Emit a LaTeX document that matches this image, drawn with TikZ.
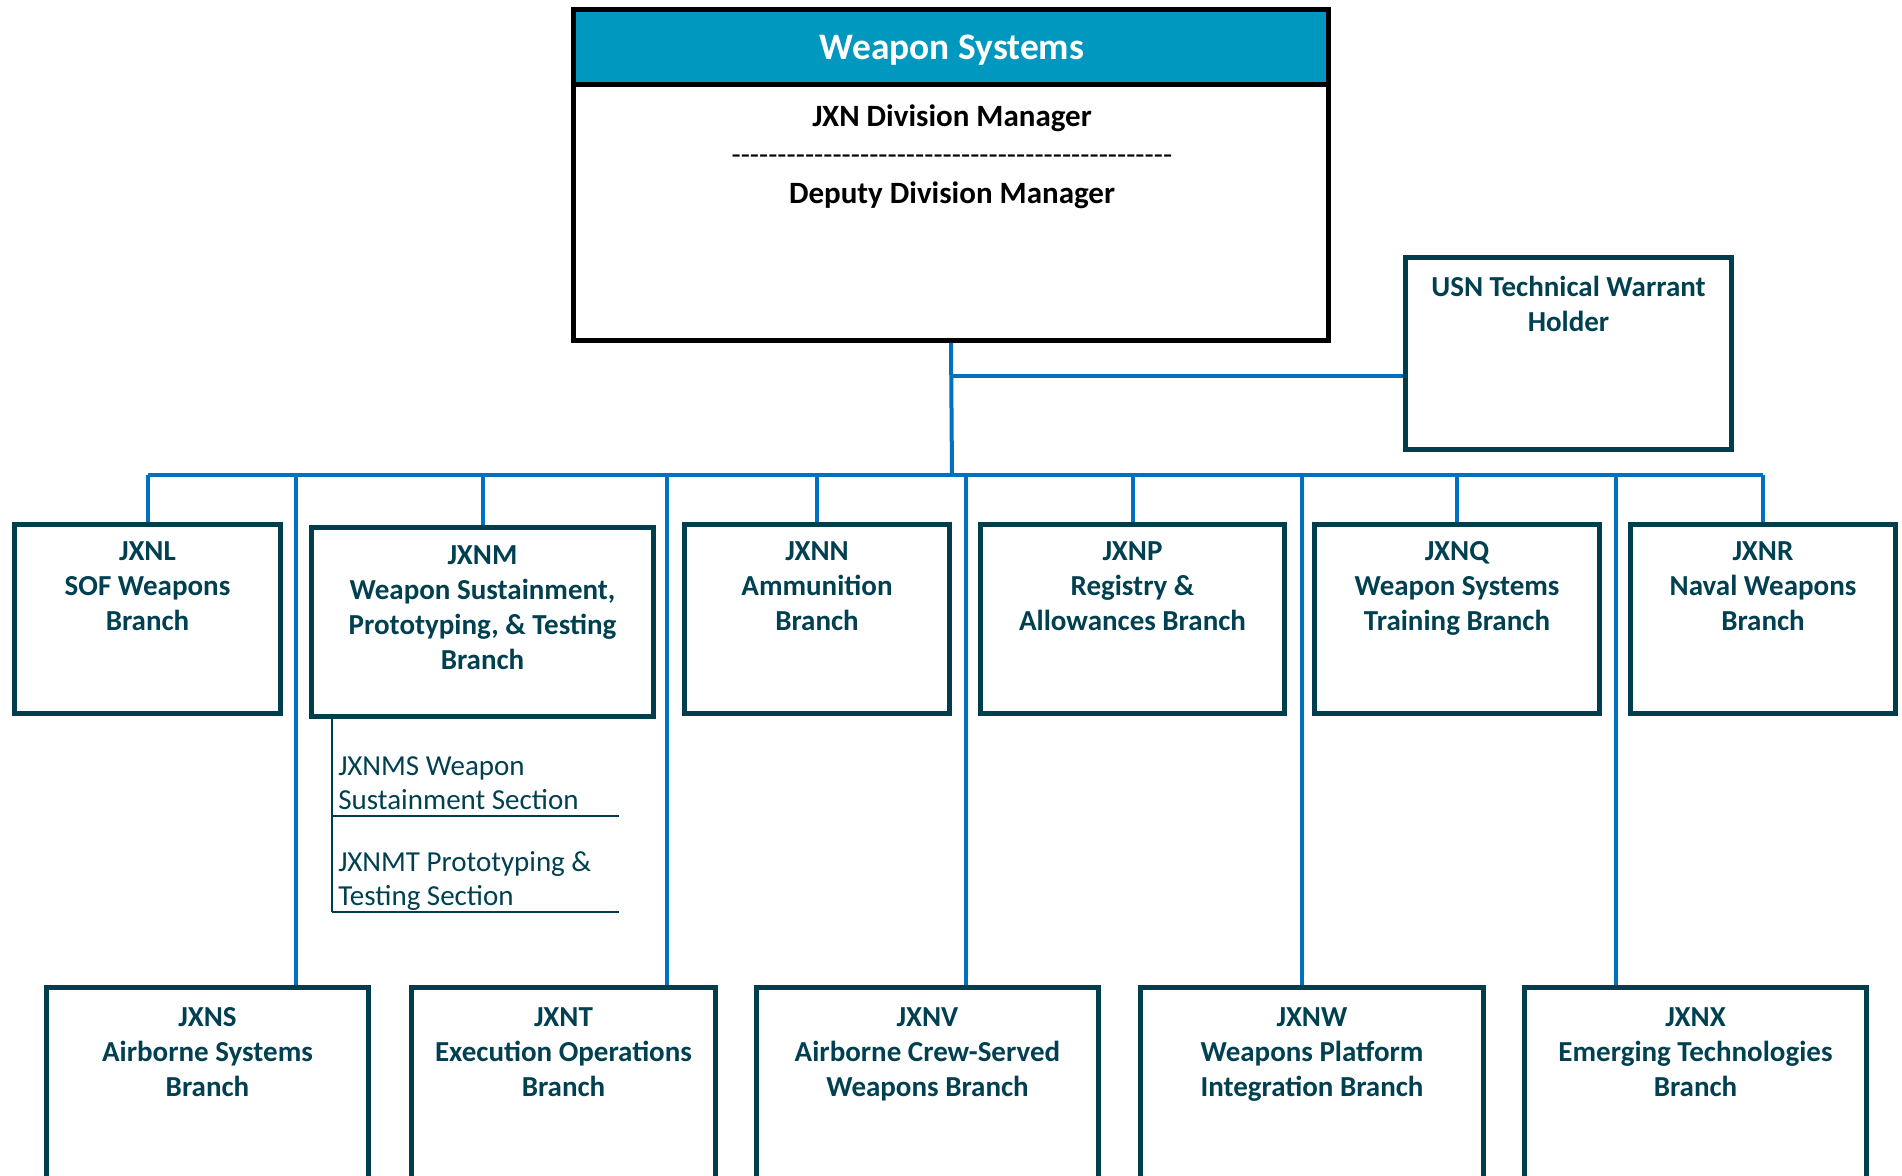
\documentclass[tikz,border=0pt]{standalone}
\usepackage{fontspec}
\setmainfont{Carlito}
\usetikzlibrary{fit,calc}
\definecolor{hdr}{RGB}{0,152,190}
\definecolor{bord}{RGB}{0,61,77}
\definecolor{txt}{RGB}{0,64,80}
\definecolor{conn}{RGB}{0,112,192}
\def\hy{-\kern0pt}
\def\dashes{\hy\hy\hy\hy\hy\hy\hy\hy\hy\hy\hy\hy\hy\hy\hy\hy\hy\hy\hy\hy\hy\hy\hy\hy\hy\hy\hy\hy\hy\hy\hy\hy\hy\hy\hy\hy\hy\hy\hy\hy\hy\hy\hy\hy\hy\hy\hy\hy}
\tikzset{
  box/.style={draw=bord, line width=2.5pt, inner sep=0pt},
  lbl/.style={text=txt, font=\bfseries\fontsize{14.5}{17.5}\selectfont, align=center, inner sep=0pt, anchor=north},
  sublbl/.style={text=txt, font=\fontsize{14.5}{17}\selectfont, align=left, inner sep=0pt, anchor=north west},
  link/.style={draw=conn, line width=2pt},
  subline/.style={draw=bord, line width=1pt},
  toptxt/.style={inner sep=0pt, font=\bfseries\fontsize{15.5}{18}\selectfont},
}
\begin{document}
\begin{tikzpicture}[x=0.5pt,y=-0.5pt]
\useasboundingbox (0,0) rectangle (1902,1176);
\clip (0,0) rectangle (1902,1176);
% top box
\fill[hdr] (573.5,9.5) rectangle (1328.5,85);
\draw[black, line width=2.5pt] (573.5,85) -- (1328.5,85);
\node[box, draw=black, fit={(573.5,9.5) (1328.5,340.5)}] (top) {};
\node[toptxt, text=white, font=\bfseries\fontsize{18.7}{22}\selectfont] (title) at (952,50) {Weapon Systems};
\node[toptxt] (mgr) at (952,118) {JXN Division Manager};
\node[inner sep=0pt, font=\fontsize{15}{18}\selectfont] (dash) at (952,160) {\dashes};
\node[toptxt] (dep) at (952,195) {Deputy Division Manager};
% USN box
\node[box, fit={(1405.5,257.5) (1731.5,449.5)}] (usn) {};
\node[lbl] (tusn) at ($(usn.north)+(0,21)$) {USN Technical Warrant\\Holder};
% row 1
\node[box, fit={(14.5,524.5) (280.5,713.5)}] (L) {};
\node[box, fit={(311.5,527.5) (653.5,716.5)}] (M) {};
\node[box, fit={(684.5,524.5) (949.5,713.5)}] (N) {};
\node[box, fit={(980.5,524.5) (1284.5,713.5)}] (P) {};
\node[box, fit={(1314.5,524.5) (1599.5,713.5)}] (Q) {};
\node[box, fit={(1630.5,524.5) (1895.5,713.5)}] (R) {};
\node[lbl] (tL) at ($(L.north)+(0,19.5)$) {JXNL\\SOF Weapons\\Branch};
\node[lbl] (tM) at ($(M.north)+(0,20.5)$) {JXNM\\Weapon Sustainment,\\Prototyping, \& Testing\\Branch};
\node[lbl] (tN) at ($(N.north)+(0,19.5)$) {JXNN\\Ammunition\\Branch};
\node[lbl] (tP) at ($(P.north)+(0,19.5)$) {JXNP\\Registry \&\\Allowances Branch};
\node[lbl] (tQ) at ($(Q.north)+(0,19.5)$) {JXNQ\\Weapon Systems\\Training Branch};
\node[lbl] (tR) at ($(R.north)+(0,19.5)$) {JXNR\\Naval Weapons\\Branch};
% row 2
\node[box, fit={(46.5,987.5) (368.5,1200)}] (S) {};
\node[box, fit={(411.5,987.5) (715.5,1200)}] (T) {};
\node[box, fit={(756.5,987.5) (1098.5,1200)}] (V) {};
\node[box, fit={(1140.5,987.5) (1483.5,1200)}] (W) {};
\node[box, fit={(1524.5,987.5) (1866.5,1200)}] (X) {};
\node[lbl] (tS) at ($(S.north)+(0,22)$) {JXNS\\Airborne Systems\\Branch};
\node[lbl] (tT) at ($(T.north)+(0,22)$) {JXNT\\Execution Operations\\Branch};
\node[lbl] (tV) at ($(V.north)+(0,22)$) {JXNV\\Airborne Crew-Served\\Weapons Branch};
\node[lbl] (tW) at ($(W.north)+(0,22)$) {JXNW\\Weapons Platform\\Integration Branch};
\node[lbl] (tX) at ($(X.north)+(0,22)$) {JXNX\\Emerging Technologies\\Branch};
% connectors
\coordinate (bus) at (952,475);
\coordinate (usnj) at (usn.west |- 0,376);
\draw[link] (top.south) -- (bus);
\draw[link] (top.south |- usnj) -- (usnj);
\draw[link] (L.north |- bus) -- (R.north |- bus);
\foreach \n in {L,M,N,P,Q,R} \draw[link] (\n.north |- bus) -- (\n.north);
\coordinate (dS) at (296,475);
\coordinate (dT) at (667,475);
\coordinate (dV) at (966,475);
\coordinate (dW) at (1302,475);
\coordinate (dX) at (1616,475);
\foreach \n in {S,T,V,W,X} \draw[link] (d\n) -- (d\n |- \n.north);
% sub sections
\coordinate (mv) at ($(M.south west)+(22.5,0)$);
\coordinate (u1) at (mv |- 0,816);
\coordinate (u2) at (mv |- 0,912);
\draw[subline] (mv) -- (u2);
\draw[subline] (u1) -- ++(287,0);
\draw[subline] (u2) -- ++(287,0);
\node[sublbl] (sMS) at (338,756) {JXNMS Weapon\\Sustainment Section};
\node[sublbl] (sMT) at (338,851) {JXNMT Prototyping \&\\Testing Section};
\end{tikzpicture}
\end{document}
